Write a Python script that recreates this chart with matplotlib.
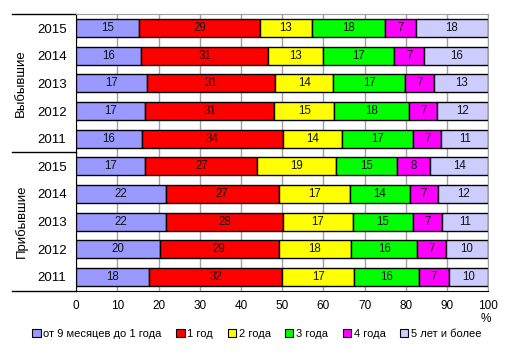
import matplotlib.pyplot as plt
from matplotlib.patches import Patch
from matplotlib.lines import Line2D

# ---------------------------------
# Data (shares in %, top to bottom)
# ---------------------------------
groups = ["Выбывшие", "Прибывшие"]
years = ["2015", "2014", "2013", "2012", "2011",
         "2015", "2014", "2013", "2012", "2011"]

series_names = ["от 9 месяцев до 1 года", "1 год", "2 года",
                "3 года", "4 года", "5 лет и более"]
colors = ["#9999FF", "#FF0000", "#FFFF00", "#00FF00", "#FF00FF", "#CCCCFF"]

months_9_12 = [15.3, 15.8, 17.2, 16.8, 15.9, 16.8, 21.7, 21.8, 20.2, 17.7]
year_1 = [29.2, 30.8, 31.1, 31.2, 34.3, 27.1, 27.4, 28.4, 28.9, 32.3]
year_2 = [12.8, 13.4, 14.1, 14.6, 14.4, 19.1, 17.4, 16.9, 17.6, 17.4]
year_3 = [17.7, 17.2, 17.4, 18.2, 17.2, 14.9, 14.4, 14.7, 16.1, 15.9]
year_4 = [7.4, 7.3, 7.0, 6.8, 6.8, 8.0, 7.0, 7.0, 6.9, 7.1]
year_5_plus = [17.6, 15.5, 13.2, 12.4, 11.4, 14.1, 12.1, 11.2, 10.3, 9.6]

series = [months_9_12, year_1, year_2, year_3, year_4, year_5_plus]

plt.rcParams["font.family"] = ["Liberation Sans", "DejaVu Sans"]

# ---------------------------------
# Figure
# ---------------------------------
fig = plt.figure(figsize=(5.13, 3.59), dpi=100)
ax = fig.add_axes([0.1487, 0.1903, 0.8031, 0.7699])

pos = list(range(len(years)))
left = [0.0] * len(years)
for vals, name, col in zip(series, series_names, colors):
    bars = ax.barh(pos, vals, left=left, height=0.65, color=col,
                   edgecolor="black", linewidth=1.0, label=name, zorder=3)
    ax.bar_label(bars, labels=[f"{round(v)}" for v in vals],
                 label_type="center", fontsize=8.3, color="#111111")
    left = [a + b for a, b in zip(left, vals)]

ax.set_xlim(0, 100)
ax.set_ylim(len(years) - 0.5, -0.5)
ax.set_xticks(range(0, 101, 10))
ax.set_yticks(pos)
ax.set_yticklabels(years, fontsize=9.5)
ax.tick_params(axis="y", length=0, pad=7)
ax.tick_params(axis="x", length=0, pad=6.5, labelsize=8.5)
ax.grid(axis="x", color="#A0A0A0", linewidth=1.0, zorder=0)

for side in ["top", "right"]:
    ax.spines[side].set_color("#A0A0A0")
ax.spines["left"].set_color("black")
ax.spines["bottom"].set_color("black")

# group separators and group names
for yv in [-0.5, 4.5, 9.5]:
    ax.add_line(Line2D([-0.156, 0], [yv, yv], transform=ax.get_yaxis_transform(),
                       color="black", linewidth=1.0, clip_on=False))
for i, g in enumerate(groups):
    ax.text(-0.134, 2 + 5 * i, g, transform=ax.get_yaxis_transform(),
            rotation=90, ha="center", va="center", fontsize=9.5)

fig.text(486 / 513, 1 - 319 / 359, "%", ha="center", va="center", fontsize=8.5)

handles = [Patch(facecolor=c, edgecolor="black", linewidth=0.8) for c in colors]
fig.legend(handles, series_names, loc="center", ncol=6,
           bbox_to_anchor=(257 / 513, 1 - 334 / 359), frameon=False,
           fontsize=8, handlelength=0.75, handleheight=0.75,
           handletextpad=0.25, columnspacing=1.3, borderaxespad=0)

fig.savefig("out.png", dpi=100)
